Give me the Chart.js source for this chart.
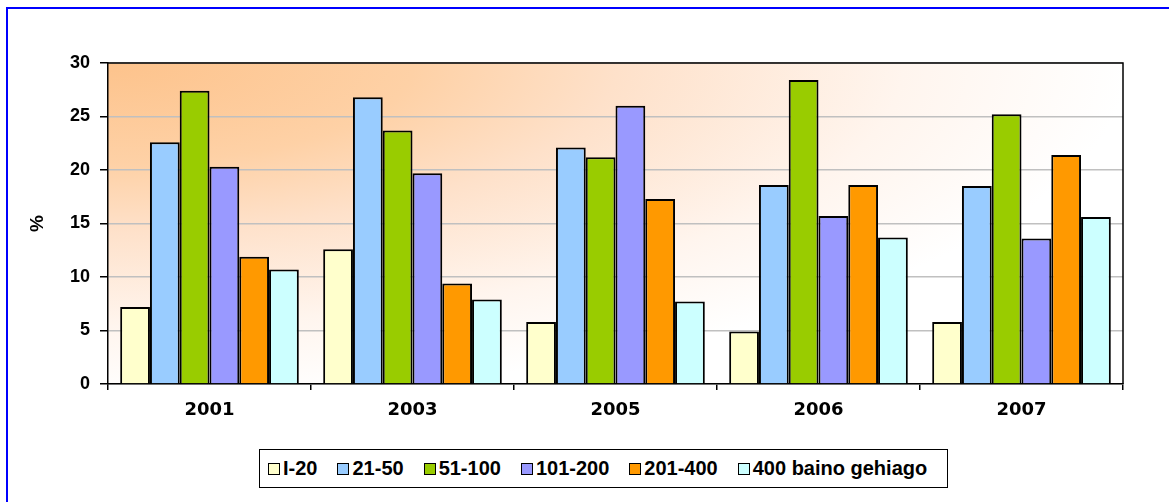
<!DOCTYPE html>
<html>
<head>
<meta charset="utf-8">
<script src="https://cdn.jsdelivr.net/npm/chart.js@4"></script>
<style>
  html, body { margin: 0; padding: 0; background: #fff; overflow: hidden; }
  #wrap { position: relative; width: 1169px; height: 502px; }
  #frame {
    position: absolute; left: 6px; top: 7px; width: 1300px; height: 700px;
    border-left: 2px solid #0000ff; border-top: 2.5px solid #0000ff;
  }
  #chart { position: absolute; left: 0; top: 0; }
  #legend {
    position: absolute; left: 259px; top: 449px; width: 679px; height: 37px;
    border: 1.5px solid #000; background: #fff;
    display: flex; align-items: center; padding-left: 8px; box-sizing: content-box;
    font: bold 20px "Liberation Sans", Arial, sans-serif; color: #000;
  }
  .item { display: flex; align-items: center; margin-right: 20px; white-space: nowrap; }
  .sw { width: 10px; height: 10px; border: 1px solid #000; margin-right: 3px; }
</style>
</head>
<body>
<div id="wrap">
  <div id="frame"></div>
  <canvas id="chart" width="1169" height="502"></canvas>
  <div id="legend"></div>
</div>
<script>
// years on the x axis
const years = ['2001', '2003', '2005', '2006', '2007'];

// size bands (legend labels)
const bands = ['I-20', '21-50', '51-100', '101-200', '201-400', '400 baino gehiago'];
const bandColors = ['#ffffcc', '#99ccff', '#99cc00', '#9999ff', '#ff9900', '#ccffff'];

// % per band, one value per year
const band1 = [7.2, 12.6, 5.8, 4.9, 5.8];
const band2 = [22.6, 26.8, 22.1, 18.6, 18.5];
const band3 = [27.4, 23.7, 21.2, 28.4, 25.2];
const band4 = [20.3, 19.7, 26.0, 15.7, 13.6];
const band5 = [11.9, 9.4, 17.3, 18.6, 21.4];
const band6 = [10.7, 7.9, 7.7, 13.7, 15.6];

const yTicks = [0, 5, 10, 15, 20, 25, 30];

const seriesValues = [band1, band2, band3, band4, band5, band6];

// plot area background: orange fading out from top-left corner
const plotBackground = {
  id: 'plotBackground',
  beforeDraw(chart) {
    const { ctx, chartArea: a } = chart;
    ctx.save();
    ctx.beginPath();
    ctx.rect(a.left, a.top, a.right - a.left, a.bottom - a.top);
    ctx.clip();
    ctx.translate(a.left, a.top);
    ctx.scale(1, 0.33);
    const g = ctx.createRadialGradient(0, 0, 0, 0, 0, 1020);
    g.addColorStop(0, '#fdc38c');
    g.addColorStop(0.3, '#fed1a6');
    g.addColorStop(0.5, '#fee1ca');
    g.addColorStop(0.78, '#fff5ee');
    g.addColorStop(1, '#ffffff');
    ctx.fillStyle = g;
    ctx.fillRect(0, 0, 1200, 1200);
    ctx.restore();
  },
  beforeDatasetsDraw(chart) {
    const { ctx, chartArea: a } = chart;
    ctx.save();
    ctx.strokeStyle = '#000';
    ctx.lineWidth = 1.5;
    ctx.beginPath();
    ctx.moveTo(a.left, a.top);
    ctx.lineTo(a.right, a.top);
    ctx.lineTo(a.right, a.bottom);
    ctx.stroke();
    ctx.restore();
  }
};

new Chart(document.getElementById('chart'), {
  type: 'bar',
  data: {
    labels: years,
    datasets: bands.map((b, i) => ({
      label: b,
      data: seriesValues[i],
      backgroundColor: bandColors[i],
      borderColor: '#000',
      borderWidth: 2,
      categoryPercentage: 0.88,
      barPercentage: 1.0
    }))
  },
  options: {
    responsive: false,
    animation: false,
    layout: { padding: { left: 0, top: 63, right: 46, bottom: 0 } },
    plugins: {
      legend: { display: false },
      tooltip: { enabled: false }
    },
    scales: {
      x: {
        afterFit(scale) { scale.height = 118; },
        grid: {
          offset: true,
          drawOnChartArea: false,
          tickColor: '#000',
          tickLength: 6,
          lineWidth: 1.5
        },
        border: { color: '#000', width: 1.5 },
        ticks: {
          padding: 10,
          color: '#000',
          font: { family: '"DejaVu Sans", Verdana, sans-serif', size: 18, weight: 'bold' }
        }
      },
      y: {
        min: 0,
        max: 30,
        afterFit(scale) { scale.width = 108; },
        afterBuildTicks(scale) { scale.ticks = yTicks.map(v => ({ value: v })); },
        grid: {
          color: '#c0c0c0',
          lineWidth: 1.5,
          tickColor: '#000',
          tickLength: 8
        },
        border: { color: '#000', width: 1.5 },
        ticks: {
          padding: 10,
          color: '#000',
          font: { family: '"Liberation Sans", Arial, sans-serif', size: 18, weight: 'bold' }
        },
        title: {
          display: true,
          text: '%',
          color: '#000',
          padding: { top: 26, bottom: 0 },
          font: { family: '"Liberation Sans", Arial, sans-serif', size: 19, weight: 'bold' }
        }
      }
    }
  },
  plugins: [plotBackground]
});

// legend box built from the same arrays
const legend = document.getElementById('legend');
bands.forEach((b, i) => {
  const item = document.createElement('div');
  item.className = 'item';
  const sw = document.createElement('span');
  sw.className = 'sw';
  sw.style.background = bandColors[i];
  const txt = document.createElement('span');
  txt.textContent = b;
  item.appendChild(sw);
  item.appendChild(txt);
  legend.appendChild(item);
});
</script>
</body>
</html>
